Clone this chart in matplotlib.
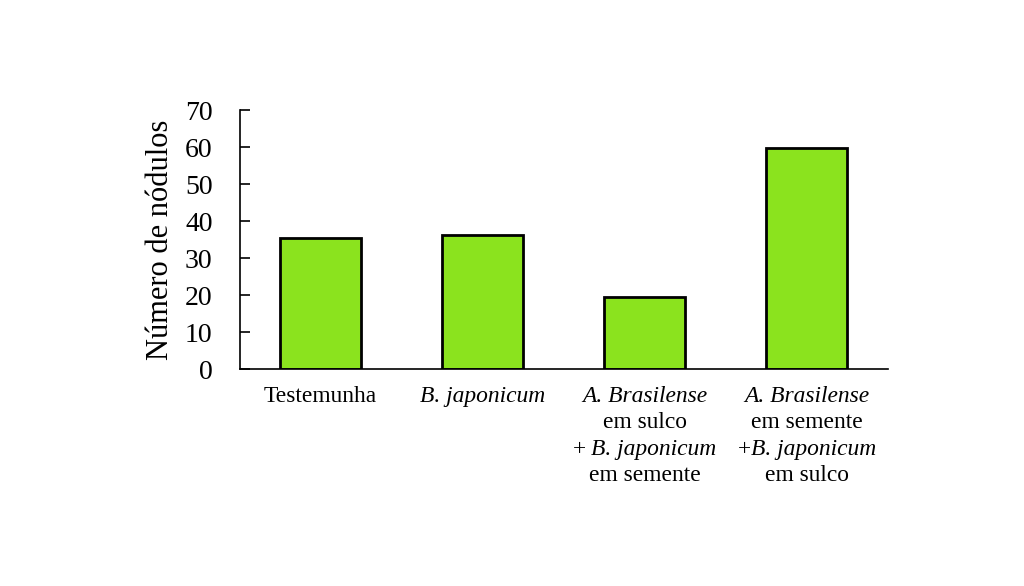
import matplotlib.pyplot as plt
from matplotlib import transforms

plt.rcParams['font.family'] = 'Liberation Serif'

# data
categories = ["Testemunha", "B. japonicum",
              "A. Brasilense em sulco + B. japonicum em semente",
              "A. Brasilense em semente +B. japonicum em sulco"]
nodulos = [35.4, 36.3, 19.5, 59.8]
yticks = [0, 10, 20, 30, 40, 50, 60, 70]

# category labels as rows of (text, style, gap after in px)
label_rows = [
    [[("Testemunha", "normal", 0)]],
    [[("B. japonicum", "italic", 0)]],
    [[("A. Brasilense", "italic", 0)],
     [("em sulco", "normal", 0)],
     [("+", "normal", 5), ("B. japonicum", "italic", 0)],
     [("em semente", "normal", 0)]],
    [[("A. Brasilense", "italic", 0)],
     [("em semente", "normal", 0)],
     [("+", "normal", 0), ("B. japonicum", "italic", 0)],
     [("em sulco", "normal", 0)]],
]

fig = plt.figure(figsize=(10.24, 5.86), dpi=100)
ax = fig.add_axes([0.234, 0.370, 0.633, 0.442])

x = list(range(len(categories)))
ax.bar(x, nodulos, width=0.5, color="#8be31e", edgecolor="black", linewidth=2)

ax.set_xlim(-0.5, 3.5)
ax.set_ylim(0, 70)
ax.set_yticks(yticks)
ax.set_xticks(x)
ax.set_xticklabels([])
ax.tick_params(axis="x", length=0)
ax.tick_params(axis="y", labelsize=20, length=7, width=1.2, direction="in", pad=19.5)
ax.set_ylabel("Número de nódulos", fontsize=22, labelpad=7)

for side in ["top", "right"]:
    ax.spines[side].set_visible(False)
for side in ["left", "bottom"]:
    ax.spines[side].set_linewidth(1.2)

# multi-line labels with mixed italic text, centred under each bar
renderer = fig.canvas.get_renderer()
base = transforms.blended_transform_factory(ax.transData, ax.transAxes)
first_row, row_step = 33, 26.3  # px below the axis
for xi, rows in zip(x, label_rows):
    for ri, segs in enumerate(rows):
        texts, widths = [], []
        for s, style, gap in segs:
            t = ax.text(xi, 0, s, fontsize=16.9, fontstyle=style,
                        ha="left", va="baseline", transform=base)
            texts.append(t)
            widths.append(t.get_window_extent(renderer).width + gap)
        pos = -sum(widths) / 2
        for t, w in zip(texts, widths):
            off = transforms.ScaledTranslation(pos / fig.dpi, -(first_row + row_step * ri) / fig.dpi,
                                               fig.dpi_scale_trans)
            t.set_transform(base + off)
            pos += w

fig.savefig("out.png", dpi=100, facecolor="white")
